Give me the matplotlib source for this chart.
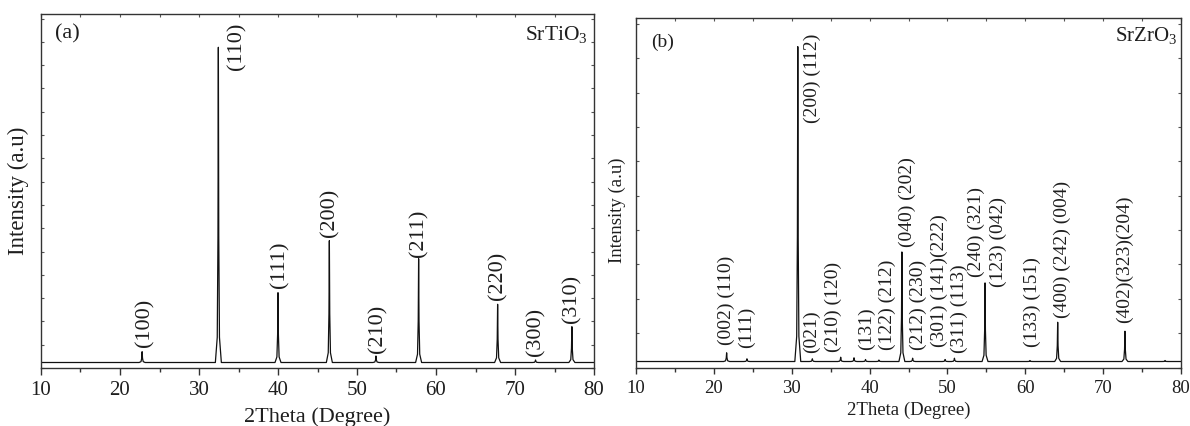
import matplotlib
matplotlib.use("Agg")
import matplotlib.pyplot as plt
from matplotlib.ticker import MultipleLocator

plt.rcParams['font.family'] = ['Liberation Serif', 'DejaVu Serif']
plt.rcParams['mathtext.fontset'] = 'custom'
plt.rcParams['mathtext.rm'] = 'Liberation Serif'
plt.rcParams['mathtext.it'] = 'Liberation Serif:italic'

# ---------------- data: SrTiO3 (panel a) ----------------
sto_x_range = [10, 80]
sto_baseline = 55
sto_peak_pos = [22.8, 32.45, 40.0, 46.5, 52.4, 57.8, 67.8, 72.6, 77.2]
sto_peak_int = [163, 3207, 753, 1273, 120, 1093, 637, 80, 413]
sto_hkl = ['(100)', '(110)', '(111)', '(200)', '(210)', '(211)', '(220)', '(300)', '(310)']

# ---------------- data: SrZrO3 (panel b) ----------------
szo_x_range = [10, 80]
szo_baseline = 60
szo_peak_pos = [21.64, 24.25, 30.78, 32.65, 36.29, 38.0, 39.48, 41.2, 44.15,
                45.53, 49.7, 50.9, 54.83, 60.6, 64.16, 72.8, 77.95]
szo_peak_int = [147, 87, 3213, 87, 103, 97, 80, 75, 1157,
                93, 80, 93, 847, 70, 453, 363, 70]
szo_hkl = ['(002) (110)', '(111)', '(200) (112)', '(021)', '(210) (120)', '(131)',
           '(122) (212)', '(040) (202)', '(212) (230)', '(301) (141)(222)',
           '(311) (113)', '(240) (321)', '(123) (042)', '(133) (151)',
           '(400) (242) (004)', '(402)(323)(204)']

# label anchor placements (x in degrees, y = bottom of rotated label)
sto_label_place = [(23.13, 213), (34.81, 2980), (40.23, 800), (46.52, 1310),
                   (52.63, 153), (57.81, 1113), (67.84, 680), (72.58, 120),
                   (77.24, 453)]
szo_label_place = [(21.55, 230), (24.14, 200), (32.60, 2450), (32.60, 150),
                   (35.30, 160), (39.58, 180), (42.33, 180), (44.79, 1210),
                   (46.27, 180), (48.97, 210), (51.52, 150), (53.73, 910),
                   (56.58, 810), (60.86, 210), (64.79, 500), (72.80, 450)]


def profile(x_range, base, pos, inten):
    """Polyline through baseline and peak apexes (fixed foot width = style)."""
    xs = [x_range[0]]
    ys = [base]
    for p, h in sorted(zip(pos, inten)):
        d = h - base
        for dx, fr in [(-0.38, 0.0), (-0.14, 0.08), (-0.05, 0.4), (0.0, 1.0),
                       (0.05, 0.4), (0.14, 0.08), (0.38, 0.0)]:
            xs.append(p + dx)
            ys.append(base + fr * d)
    xs.append(x_range[1])
    ys.append(base)
    return xs, ys


TXT = '#1e1e1e'
fig = plt.figure(figsize=(11.9, 4.26), dpi=100)
ax1 = fig.add_axes([41 / 1190, 58 / 426, 553 / 1190, 354 / 426])
ax2 = fig.add_axes([636 / 1190, 58.5 / 426, 545 / 1190, 349.5 / 426])


def style_axes(ax, tick_fs, major_len, minor_len, pad, ystep):
    for s in ax.spines.values():
        s.set_linewidth(1.0)
        s.set_color('#333333')
    ax.xaxis.set_major_locator(MultipleLocator(10))
    ax.xaxis.set_minor_locator(MultipleLocator(5))
    ax.yaxis.set_major_locator(MultipleLocator(ystep))
    ax.tick_params(axis='x', which='major', direction='out', length=major_len,
                   width=1.0, labelsize=tick_fs, pad=pad, colors='#333333',
                   labelcolor=TXT, top=False)
    ax.tick_params(axis='x', which='minor', direction='out', length=minor_len,
                   width=1.0, colors='#333333', top=False)
    ax.tick_params(axis='y', which='major', direction='in', length=2,
                   width=0.8, left=True, right=True, labelleft=False,
                   colors='#555555')
    sec = ax.secondary_xaxis('top')
    sec.xaxis.set_major_locator(MultipleLocator(5))
    sec.tick_params(direction='in', length=2, width=0.8, labeltop=False,
                    colors='#555555')
    sec.spines['top'].set_visible(False)


# ---------------- panel (a) ----------------
xs, ys = profile(sto_x_range, sto_baseline, sto_peak_pos, sto_peak_int)
ax1.plot(xs, ys, color='#111111', lw=0.9)
ax1.set_xlim(10, 80)
ax1.set_ylim(0, 3540)
style_axes(ax1, 15, 5, 3, 4.5, 233)
for lab, (lx, ly) in zip(sto_hkl, sto_label_place):
    ax1.text(lx, ly, lab, rotation=90, ha='center', va='bottom', fontsize=16,
             color=TXT)
ax1.text(0.025, 0.972, '(a)', transform=ax1.transAxes, ha='left', va='top',
         fontsize=16, color=TXT)
ax1.text(0.988, 0.972, 'SrTiO$_3$', transform=ax1.transAxes, ha='right',
         va='top', fontsize=15.5, color=TXT)
ax1.set_xlabel('2Theta (Degree)', fontsize=16, color=TXT)
ax1.xaxis.set_label_coords(0.5, -0.112)
ax1.set_ylabel('Intensity (a.u)', fontsize=16.5, color=TXT)
ax1.yaxis.set_label_coords(-0.022, 0.5)

# ---------------- panel (b) ----------------
xs, ys = profile(szo_x_range, szo_baseline, szo_peak_pos, szo_peak_int)
ax2.plot(xs, ys, color='#111111', lw=0.9)
ax2.set_xlim(10, 80)
ax2.set_ylim(0, 3500)
style_axes(ax2, 13.5, 4.5, 2.6, 4.5, 344)
for lab, (lx, ly) in zip(szo_hkl, szo_label_place):
    ax2.text(lx, ly, lab, rotation=90, ha='center', va='bottom', fontsize=14,
             color=TXT)
ax2.text(0.028, 0.955, '(b)', transform=ax2.transAxes, ha='left', va='top',
         fontsize=14, color=TXT)
ax2.text(0.993, 0.98, 'SrZrO$_3$', transform=ax2.transAxes, ha='right',
         va='top', fontsize=15, color=TXT)
ax2.set_xlabel('2Theta (Degree)', fontsize=13.5, color=TXT)
ax2.xaxis.set_label_coords(0.5, -0.097)
ax2.set_ylabel('Intensity (a.u)', fontsize=13.5, color=TXT)
ax2.yaxis.set_label_coords(-0.018, 0.45)

fig.savefig('out.png', dpi=100)
